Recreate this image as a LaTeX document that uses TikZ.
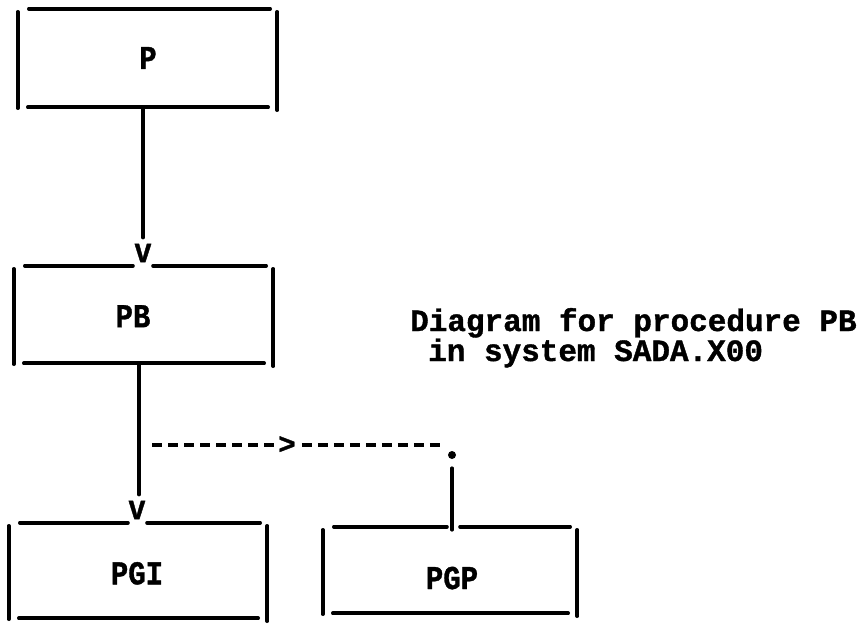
\documentclass[tikz,border=0pt]{standalone}
\usepackage{fontspec}
\newfontfamily\twfont[FakeBold=1.2]{Liberation Mono Bold}
\usetikzlibrary{calc}
\tikzset{
  tw/.style={font=\twfont\fontsize{29}{31}\selectfont, inner sep=0pt},
  twlab/.style={font=\twfont\fontsize{29}{31}\selectfont, inner sep=0pt, yscale=1.15},
  twcap/.style={font=\twfont\fontsize{31}{31}\selectfont, inner sep=0pt, anchor=base west},
  boxn/.style={draw=none, inner sep=0pt},
  ink/.style={line width=3.6pt, line cap=round},
  dashink/.style={line width=3.4pt, dash pattern=on 10pt off 6pt},
  dotn/.style={circle, fill, inner sep=0pt, minimum size=8pt}
}
\newcommand\framesides[1]{%
  \draw[ink] ($(#1.north west)+(0,3)$) -- ($(#1.south west)+(0,1)$);
  \draw[ink] ($(#1.north east)+(0,3)$) -- ($(#1.south east)+(0,3)$);
  \draw[ink] ($(#1.south west)+(10,0)$) -- ($(#1.south east)+(-9,0)$);}
\newcommand\frametop[1]{%
  \draw[ink] ($(#1.north west)+(11,0)$) -- ($(#1.north east)+(-7,0)$);}
\newcommand\frametopgap[4]{%
  \draw[ink] ($(#1.north west)+(11,0)$) -- ($(#1.north -| #2)+(-#3,0)$);
  \draw[ink] ($(#1.north -| #2)+(#4,0)$) -- ($(#1.north east)+(-7,0)$);}
\begin{document}
\begin{tikzpicture}[x=1pt, y=-1pt]
\fill[white] (0,0) rectangle (865,626);
\useasboundingbox (0,0) rectangle (865,626);

% boxes
\node[boxn, minimum width=259pt, minimum height=98pt,
      label={[twlab, xshift=0.5pt]center:P}] (P) at (147.5,58) {};
\node[boxn, minimum width=259pt, minimum height=97pt,
      label={[twlab, xshift=-10.5pt, yshift=-1.5pt]center:PB}] (PB) at (143.5,314.5) {};
\node[boxn, minimum width=258pt, minimum height=95pt,
      label={[twlab, xshift=-1pt, yshift=-2.5pt]center:PGI}] (PGI) at (138,570.5) {};
\node[boxn, minimum width=254pt, minimum height=86pt,
      label={[twlab, xshift=2pt, yshift=-7pt]center:PGP}] (PGP) at (450,570) {};

% typed arrow heads and marks
\node[tw, yscale=1.2] (vP) at (143,253) {v};
\node[tw, yscale=1.2] (vPGI) at (137,510) {v};
\node[tw] (gt) at (287,445) {>};
\node[dotn] (dot) at (452,455) {};
\coordinate (dstart) at (152,445);

% caption
\node[twcap] (cap1) at (410,331) {Diagram for procedure PB};
\node[twcap] (cap2) at (428,361) {in system SADA.X00};

% frames
\frametop{P}\framesides{P}
\frametopgap{PB}{vP}{10}{10}\framesides{PB}
\frametopgap{PGI}{vPGI}{9}{10}\framesides{PGI}
\frametopgap{PGP}{dot}{5}{8}\framesides{PGP}

% connectors
\draw[ink] (vP |- P.south) -- ($(vP.north)+(0,-6)$);
\draw[ink] ($(PB.south -| vPGI)+(2,0)$) -- ($(vPGI.north)+(2,-6)$);
\draw[dashink] (dstart) -- ($(gt.west)+(-4,0)$);
\draw[dashink] ($(gt.east)+(6,0)$) -- ($(gt.east -| dot.west)+(-6,0)$);
\draw[ink] ($(dot.south)+(0,9)$) -- ($(PGP.north -| dot)+(0,3)$);
\end{tikzpicture}
\end{document}
